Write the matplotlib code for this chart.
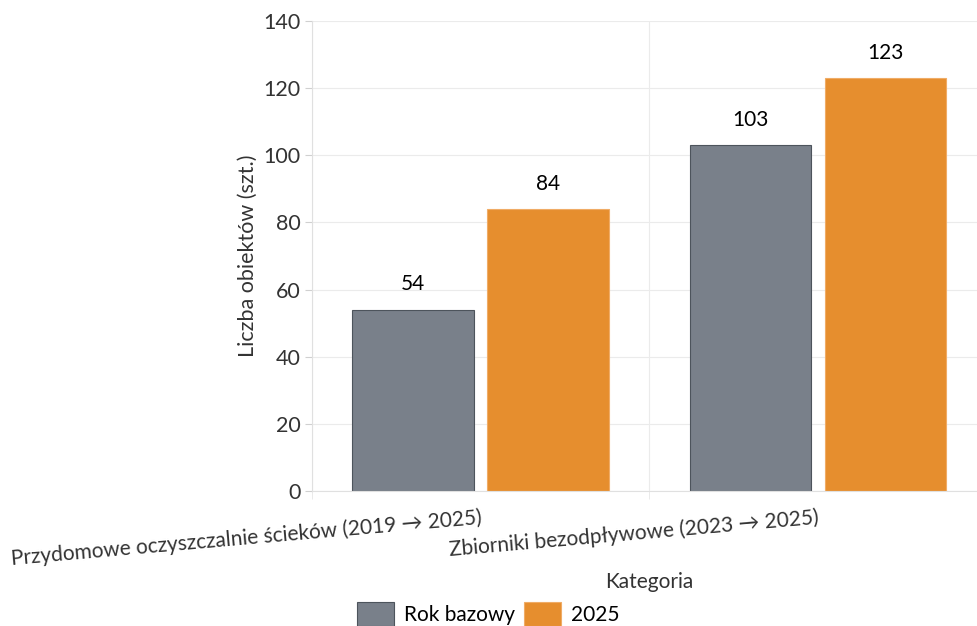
import matplotlib.pyplot as plt
import numpy as np

plt.rcParams['font.family'] = ['Lato', 'DejaVu Sans']

kategorie = ["Przydomowe oczyszczalnie ścieków (2019 → 2025)",
             "Zbiorniki bezodpływowe (2023 → 2025)"]
rok_bazowy = [54, 103]
rok_2025 = [84, 123]
serie = ["Rok bazowy", "2025"]

fig = plt.figure(figsize=(9.77, 6.26), dpi=100)
ax = fig.add_axes([0.3193, 0.2157, 0.6909, 0.7508])

x = np.arange(len(kategorie))
w = 0.36
b1 = ax.bar(x - 0.2, rok_bazowy, w, color="#79808a", edgecolor="#4d545c",
            linewidth=0.8, label=serie[0])
b2 = ax.bar(x + 0.2, rok_2025, w, color="#e68e2e", edgecolor="#f0ac66",
            linewidth=0.8, label=serie[1])

for bars in (b1, b2):
    for r in bars:
        ax.annotate(f"{int(r.get_height())}",
                    (r.get_x() + r.get_width() / 2, r.get_height()),
                    xytext=(0, 11), textcoords="offset points",
                    ha="center", va="bottom", fontsize=15, color="black")

ax.set_xlim(-0.5, 1.5)
ax.set_ylim(0, 140)
ax.set_yticks(range(0, 141, 20))
ax.set_xticks(x)
ax.set_xticklabels(kategorie, rotation=5, ha="right", rotation_mode="anchor",
                   fontsize=15, color="#333333")
ax.set_xticks([-0.5, 0.5, 1.5], minor=True)
ax.tick_params(axis="x", which="major", length=0, pad=12)
ax.tick_params(axis="x", which="minor", length=6, color="#e6e6e6")
ax.tick_params(axis="y", length=5, color="#d0d0d0", labelsize=15.5,
               labelcolor="#333333", pad=3)

ax.grid(axis="y", color="#ebebeb", linewidth=0.8)
ax.grid(axis="x", which="minor", color="#ebebeb", linewidth=0.8)
ax.set_axisbelow(True)
for s in ["top", "right"]:
    ax.spines[s].set_visible(False)
ax.spines["left"].set_color("#e0e0e0")
ax.spines["bottom"].set_color("#e0e0e0")

ax.set_ylabel("Liczba obiektów (szt.)", fontsize=15.5, color="#333333", labelpad=4)
ax.set_xlabel("Kategoria", fontsize=15, color="#333333", labelpad=2)

fig.legend(handles=[b1, b2], labels=serie, loc="upper center",
           bbox_to_anchor=(0.5, 0.068), ncol=2, frameon=False, fontsize=15,
           handlelength=1.75, handleheight=1.4, columnspacing=0.45,
           handletextpad=0.5)

fig.savefig("out.png", dpi=100)
